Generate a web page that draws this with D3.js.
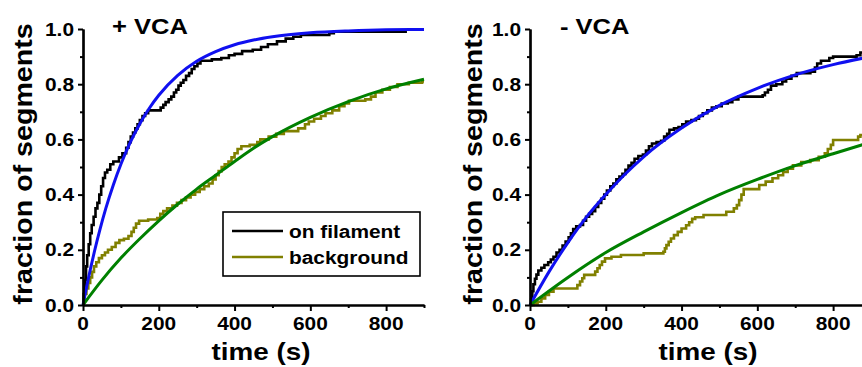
<!DOCTYPE html>
<html>
<head>
<meta charset="UTF-8">
<script src="https://d3js.org/d3.v7.min.js"></script>
<style>
  body { margin: 0; background: #fff; }
  text { font-family: "Liberation Sans", Arial, sans-serif; font-weight: bold; fill: #000; }
</style>
</head>
<body>
<svg width="862" height="367"></svg>
<script>
// axis ticks
var xTicks = [0, 200, 400, 600, 800];
var xMinor = [100, 300, 500, 700, 900];
var yTicks = [0, 0.2, 0.4, 0.6, 0.8, 1.0];
var yMinor = [0.1, 0.3, 0.5, 0.7, 0.9];
var legendLabels = ["on filament", "background"];

// + VCA : cumulative fraction, [time (s), fraction]
var plusOn = [[0,0],[2,0.04],[5,0.09],[8,0.14],[11,0.18],[15,0.22],[19,0.26],[23,0.29],[28,0.32],[33,0.35],[38,0.37],[43,0.40],
  [48,0.43],[53,0.46],[58,0.48],[64,0.49],[72,0.51],[80,0.52],[95,0.535],[104,0.55],[114,0.57],[120,0.59],[126,0.61],
  [132,0.625],[138,0.64],[144,0.655],[150,0.67],[157,0.685],[164,0.695],[172,0.705],[205,0.715],[212,0.725],[218,0.735],
  [226,0.745],[233,0.755],[240,0.77],[246,0.78],[252,0.795],[258,0.805],[265,0.815],[272,0.83],[280,0.84],[287,0.855],
  [294,0.865],[302,0.875],[310,0.885],[340,0.89],[365,0.895],[385,0.905],[400,0.91],[420,0.92],[448,0.925],[470,0.935],
  [488,0.945],[512,0.955],[535,0.965],[555,0.972],[575,0.978],[650,0.985],[662,0.99],[855,0.99]];
var plusBg = [[0,0.02],[4,0.04],[9,0.06],[14,0.08],[19,0.10],[24,0.12],[29,0.14],[35,0.155],[42,0.17],[50,0.18],[58,0.19],
  [66,0.20],[76,0.21],[86,0.225],[96,0.235],[108,0.24],[120,0.25],[128,0.265],[134,0.28],[140,0.295],[148,0.305],
  [172,0.31],[196,0.315],[204,0.33],[212,0.34],[222,0.35],[236,0.36],[248,0.37],[260,0.38],[272,0.39],[284,0.40],
  [296,0.41],[308,0.42],[320,0.43],[332,0.44],[342,0.455],[350,0.47],[358,0.485],[366,0.50],[374,0.51],[384,0.52],
  [392,0.535],[400,0.55],[408,0.565],[418,0.575],[440,0.58],[460,0.59],[468,0.60],[490,0.61],[510,0.62],[530,0.63],
  [568,0.64],[586,0.655],[596,0.665],[610,0.675],[628,0.685],[640,0.695],[658,0.705],[676,0.72],[690,0.73],[702,0.74],
  [745,0.745],[760,0.755],[772,0.77],[790,0.78],[810,0.79],[830,0.80],[860,0.805],[895,0.81],[900,0.81]];
var plusOnFit = [[0,0],[10,0.069],[20,0.133],[30,0.193],[45,0.275],[60,0.349],[80,0.435],[100,0.51],[125,0.59],[150,0.657],
  [175,0.713],[200,0.76],[250,0.832],[300,0.883],[350,0.918],[400,0.943],[450,0.96],[500,0.972],[600,0.986],[700,0.993],
  [800,0.997],[900,0.998]];
var plusBgFit = [[0,0],[50,0.09],[100,0.17],[150,0.24],[200,0.305],[250,0.365],[300,0.42],[350,0.47],[400,0.52],
  [450,0.568],[500,0.61],[600,0.68],[700,0.737],[800,0.783],[900,0.818]];

// - VCA
var minusOn = [[0,0],[3,0.02],[6,0.05],[9,0.075],[13,0.095],[17,0.11],[22,0.125],[30,0.135],[38,0.145],[48,0.155],[55,0.165],
  [62,0.175],[70,0.19],[78,0.20],[86,0.215],[94,0.23],[102,0.245],[108,0.26],[114,0.275],[122,0.285],[132,0.29],[140,0.305],
  [148,0.32],[156,0.33],[164,0.34],[172,0.355],[180,0.37],[188,0.385],[196,0.40],[203,0.415],[212,0.43],[220,0.44],
  [228,0.455],[236,0.465],[244,0.475],[252,0.49],[260,0.505],[268,0.515],[276,0.53],[286,0.54],[298,0.545],[306,0.56],
  [314,0.575],[322,0.585],[334,0.59],[346,0.595],[354,0.61],[362,0.62],[368,0.635],[380,0.64],[392,0.645],[402,0.655],
  [412,0.665],[426,0.67],[438,0.675],[446,0.685],[456,0.695],[468,0.705],[480,0.715],[492,0.72],[506,0.73],[522,0.735],
  [534,0.745],[550,0.755],[614,0.76],[620,0.77],[628,0.78],[636,0.795],[650,0.80],[666,0.81],[676,0.82],[690,0.83],
  [704,0.84],[740,0.845],[752,0.86],[758,0.875],[768,0.885],[790,0.895],[800,0.90],[862,0.905],[872,0.915],[900,0.915]];
var minusBg = [[0,0],[10,0.006],[20,0.012],[30,0.024],[40,0.036],[50,0.048],[62,0.06],[125,0.072],[132,0.085],[138,0.097],
  [143,0.109],[172,0.121],[178,0.133],[184,0.145],[190,0.157],[198,0.169],[215,0.175],[240,0.181],[300,0.187],[352,0.193],
  [356,0.205],[360,0.217],[366,0.229],[372,0.241],[380,0.253],[390,0.265],[400,0.277],[412,0.289],[420,0.30],[428,0.312],
  [436,0.318],[458,0.326],[518,0.338],[538,0.35],[546,0.362],[552,0.38],[558,0.40],[564,0.42],[605,0.435],[622,0.447],
  [640,0.459],[655,0.47],[668,0.482],[680,0.494],[694,0.506],[716,0.518],[740,0.525],[762,0.537],[778,0.55],[786,0.565],
  [794,0.58],[800,0.598],[866,0.61],[872,0.616],[900,0.616]];
var minusOnFit = [[0,0],[50,0.12],[100,0.226],[150,0.32],[200,0.40],[250,0.473],[300,0.537],[400,0.641],[500,0.723],
  [600,0.785],[700,0.834],[800,0.871],[900,0.90]];
var minusBgFit = [[0,0],[100,0.1],[200,0.19],[300,0.265],[400,0.335],[500,0.40],[600,0.455],[700,0.505],[800,0.548],[900,0.59]];

var svg = d3.select("svg");
var SX = 1.16; // the lettering in the figure is a bit wide

var y = d3.scaleLinear().domain([0, 1]).range([305, 29]);

function drawPanel(left, title, titleX, yTitleX, on, bg, onFit, bgFit, withLegend) {
  var x = d3.scaleLinear().domain([0, 900]).range([left, left + 341]);
  var g = svg.append("g");

  var step = d3.line().x(d => x(d[0])).y(d => y(d[1])).curve(d3.curveStepAfter);
  var smooth = d3.line().x(d => x(d[0])).y(d => y(d[1])).curve(d3.curveMonotoneX);

  g.append("path").attr("d", step(on)).attr("fill", "none").attr("stroke", "#000").attr("stroke-width", 2.6);
  g.append("path").attr("d", step(bg)).attr("fill", "none").attr("stroke", "#808000").attr("stroke-width", 2.6);
  g.append("path").attr("d", smooth(onFit)).attr("fill", "none").attr("stroke", "#1010f0").attr("stroke-width", 3);
  g.append("path").attr("d", smooth(bgFit)).attr("fill", "none").attr("stroke", "#008000").attr("stroke-width", 3);

  // axes
  var xa = g.append("g").attr("transform", "translate(0,305)")
    .call(d3.axisBottom(x).tickValues(xTicks).tickSize(6).tickSizeOuter(0).tickFormat(""));
  var xm = g.append("g").attr("transform", "translate(0,305)")
    .call(d3.axisBottom(x).tickValues(xMinor).tickSize(3).tickSizeOuter(0).tickFormat(""));
  var ya = g.append("g").attr("transform", "translate(" + left + ",0)")
    .call(d3.axisLeft(y).tickValues(yTicks).tickSize(5).tickSizeOuter(0).tickFormat(""));
  var ym = g.append("g").attr("transform", "translate(" + left + ",0)")
    .call(d3.axisLeft(y).tickValues(yMinor).tickSize(3).tickSizeOuter(0).tickFormat(""));
  [xa, xm, ya, ym].forEach(function (a) {
    a.select(".domain").attr("stroke", "#000").attr("stroke-width", 2.2);
    a.selectAll(".tick line").attr("stroke", "#000").attr("stroke-width", 2);
  });

  // tick labels
  xTicks.forEach(function (t) {
    g.append("text").attr("transform", "translate(" + x(t) + ",330) scale(" + SX + ",1)")
      .attr("text-anchor", "middle").style("font-size", "18px").text(t);
  });
  yTicks.forEach(function (v) {
    g.append("text").attr("transform", "translate(" + (left - 9) + "," + (y(v) + 6.5) + ") scale(" + SX + ",1)")
      .attr("text-anchor", "end").style("font-size", "18px").text(d3.format(".1f")(v));
  });

  // titles
  g.append("text").attr("transform", "translate(" + (left + 178) + ",360) scale(" + SX + ",1)")
    .attr("text-anchor", "middle").style("font-size", "24px").text("time (s)");
  g.append("text").attr("transform", "translate(" + yTitleX + ",164) rotate(-90) scale(1.1,1)")
    .attr("text-anchor", "middle").style("font-size", "26px").text("fraction of segments");
  g.append("text").attr("transform", "translate(" + titleX + ",34) scale(" + SX + ",1)")
    .style("font-size", "22px").text(title);

  if (withLegend) {
    var lg = g.append("g");
    lg.append("rect").attr("x", 223).attr("y", 212).attr("width", 197).attr("height", 64)
      .attr("fill", "#fff").attr("stroke", "#000").attr("stroke-width", 1.6);
    var cols = ["#000", "#808000"];
    legendLabels.forEach(function (lab, i) {
      var yy = 231 + i * 26;
      lg.append("line").attr("x1", 232).attr("x2", 283).attr("y1", yy).attr("y2", yy)
        .attr("stroke", cols[i]).attr("stroke-width", 2.6);
      lg.append("text").attr("transform", "translate(289," + (yy + 7) + ") scale(" + SX + ",1)")
        .style("font-size", "18px").text(lab);
    });
  }
}

drawPanel(83, "+ VCA", 112, 32, plusOn, plusBg, plusOnFit, plusBgFit, true);
drawPanel(530, "- VCA", 560, 482, minusOn, minusBg, minusOnFit, minusBgFit, false);
</script>
</body>
</html>
